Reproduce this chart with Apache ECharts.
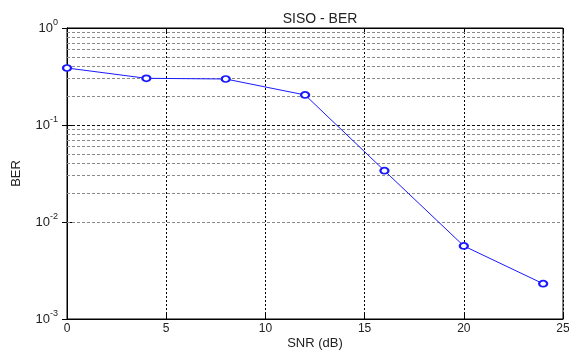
<!DOCTYPE html>
<html>
<head>
<meta charset="utf-8">
<script src="https://cdn.jsdelivr.net/npm/echarts@6/dist/echarts.min.js"></script>
<style>
  html, body { margin: 0; padding: 0; background: #fff; }
  #chart { width: 569px; height: 351px; }
</style>
</head>
<body>
<div id="chart"></div>
<script>
// SNR points (dB) and measured bit error rate
const snr = [0, 4, 8, 12, 16, 20, 24];
const ber = [0.387, 0.303, 0.298, 0.204, 0.0338, 0.00566, 0.00231];

// Axis ranges and tick labels
const xTicks = [0, 5, 10, 15, 20, 25];
const yExponents = [0, -1, -2, -3];
const minorSteps = [2, 3, 4, 5, 6, 7, 8, 9];

const FONT = '"Liberation Sans", Arial, Helvetica, sans-serif';
const LINE_BLUE = '#1a1aff';

// Minor log grid lines: 2..9 within each decade
const minorLines = [];
for (const e of yExponents.slice(1)) {
  for (const k of minorSteps) {
    minorLines.push({ yAxis: k * Math.pow(10, e) });
  }
}

const chart = echarts.init(document.getElementById('chart'), null, { renderer: 'canvas' });

const xCommon = {
  type: 'value',
  min: xTicks[0],
  max: xTicks[xTicks.length - 1],
  interval: xTicks[1] - xTicks[0]
};
const yCommon = {
  type: 'log',
  logBase: 10,
  min: Math.pow(10, Math.min(...yExponents)),
  max: Math.pow(10, Math.max(...yExponents))
};

chart.setOption({
  backgroundColor: '#fff',
  animation: false,
  title: {
    text: 'SISO - BER',
    left: 315,
    textAlign: 'center',
    top: 7,
    textStyle: { fontFamily: FONT, fontSize: 14, fontWeight: 'normal', color: '#222' }
  },
  grid: {
    left: 67, right: 6, top: 28, bottom: 32,
    containLabel: false,
    outerBoundsMode: 'none',
    show: true, borderColor: '#000', borderWidth: 1, backgroundColor: '#fff'
  },
  xAxis: [
    Object.assign({}, xCommon, {
      position: 'bottom',
      name: 'SNR (dB)',
      nameLocation: 'middle',
      nameGap: 18,
      nameMoveOverlap: false,
      nameTextStyle: { fontFamily: FONT, fontSize: 13, color: '#222' },
      axisLine: { show: true, lineStyle: { color: '#000', width: 1 } },
      axisTick: { show: true, inside: true, length: 5, lineStyle: { color: '#000' } },
      axisLabel: { fontFamily: FONT, fontSize: 12, color: '#222', margin: 4 },
      splitLine: { show: true, lineStyle: { color: '#000', type: [2, 2], width: 1 } }
    }),
    Object.assign({}, xCommon, {
      position: 'top',
      axisLine: { show: true, lineStyle: { color: '#000', width: 1 } },
      axisTick: { show: true, inside: true, length: 5, lineStyle: { color: '#000' } },
      axisLabel: { show: false },
      splitLine: { show: false }
    })
  ],
  yAxis: [
    Object.assign({}, yCommon, {
      position: 'left',
      name: 'BER',
      nameLocation: 'middle',
      nameGap: 44,
      nameRotate: 90,
      nameMoveOverlap: false,
      nameTextStyle: { fontFamily: FONT, fontSize: 13, color: '#222' },
      axisLine: { show: true, lineStyle: { color: '#000', width: 1 } },
      axisTick: { show: true, inside: true, length: 5, lineStyle: { color: '#000' } },
      axisLabel: {
        margin: 9,
        formatter: function (v) {
          return '{b|10}{s|' + Math.round(Math.log10(v)) + '}';
        },
        rich: {
          b: { fontFamily: FONT, fontSize: 13, color: '#222' },
          s: { fontFamily: FONT, fontSize: 9, color: '#222', padding: [0, 0, 10, 0] }
        }
      },
      splitLine: { show: true, lineStyle: { color: '#111', type: [3, 2], width: 1 } }
    }),
    Object.assign({}, yCommon, {
      position: 'right',
      axisLine: { show: true, lineStyle: { color: '#000', width: 1 } },
      axisTick: { show: true, inside: true, length: 5, lineStyle: { color: '#000' } },
      axisLabel: { show: false },
      splitLine: { show: false }
    })
  ],
  series: [
    {
      type: 'line',
      data: snr.map((x, i) => [x, ber[i]]),
      xAxisIndex: 0,
      yAxisIndex: 0,
      symbol: 'emptyCircle',
      symbolSize: [8, 6],
      showSymbol: true,
      lineStyle: { color: LINE_BLUE, width: 1 },
      itemStyle: { color: LINE_BLUE, borderWidth: 1 },
      z: 5,
      markLine: {
        silent: true,
        symbol: 'none',
        label: { show: false },
        lineStyle: { color: '#8a8a8a', type: [3, 2], width: 1 },
        data: minorLines,
        z: 1
      }
    }
  ]
});
</script>
</body>
</html>
